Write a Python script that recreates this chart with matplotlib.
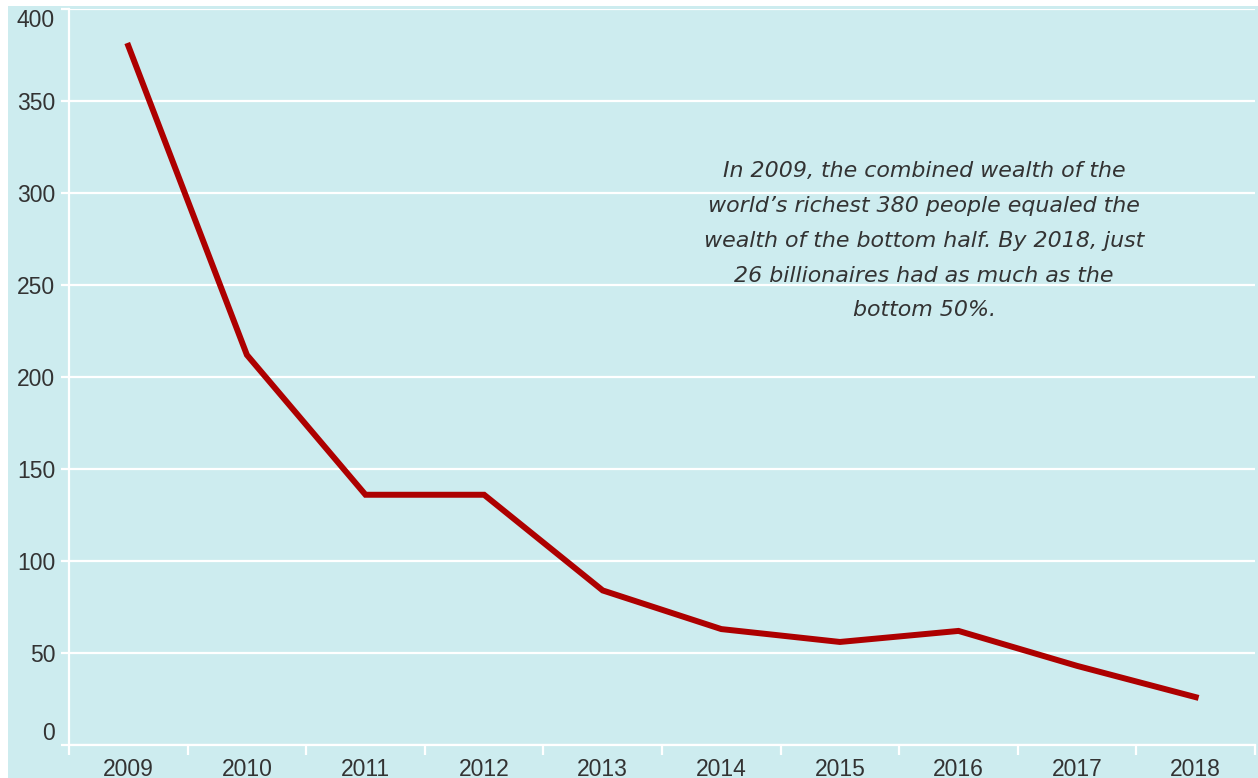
import numpy as np
import matplotlib.pyplot as plt
from matplotlib.patches import Rectangle

years = ["2009", "2010", "2011", "2012", "2013", "2014", "2015", "2016", "2017", "2018"]
billionaires = [380, 212, 136, 136, 84, 63, 56, 62, 43, 26]
note = ("In 2009, the combined wealth of the\n"
        "world\u2019s richest 380 people equaled the\n"
        "wealth of the bottom half. By 2018, just\n"
        "26 billionaires had as much as the\n"
        "bottom 50%.")

bg = "#cdecef"
line_col = "#ad0000"
txt_col = "#333333"

plt.rcParams['font.family'] = ['Liberation Sans', 'DejaVu Sans']

fig = plt.figure(figsize=(12.58, 7.78), dpi=100, facecolor="white")
# cyan panel behind everything (thin white strip top and left)
fig.patches.append(Rectangle((8 / 1258, 0), 1, (778 - 6) / 778, transform=fig.transFigure,
                             facecolor=bg, edgecolor="none", zorder=-10))

W, H = 1258, 778
ax = fig.add_axes([69 / W, (H - 745) / H, (1255 - 69) / W, (745 - 9) / H])
ax.set_facecolor(bg)
ax.patch.set_alpha(0)

x = np.arange(len(years))
ax.plot(x, billionaires, color=line_col, lw=4.3, solid_joinstyle="miter", zorder=3)

ax.set_xlim(-0.5, len(years) - 0.5)
ax.set_ylim(0, 400)
ax.set_yticks(np.arange(0, 401, 50))
ax.grid(axis="y", color="white", lw=1.6)
ax.set_axisbelow(True)

for s in ["top", "right"]:
    ax.spines[s].set_visible(False)
for s in ["left", "bottom"]:
    ax.spines[s].set_color("white")
    ax.spines[s].set_linewidth(1.6)

ax.set_xticks(x)
ax.set_xticklabels(years)
ax.set_xticks(np.arange(-0.5, len(years)), minor=True)
ax.tick_params(axis="x", which="major", length=0, pad=9, labelsize=16.5, labelcolor=txt_col)
ax.tick_params(axis="x", which="minor", length=7, width=1.6, color="white")
ax.tick_params(axis="y", length=6, width=1.6, color="white", pad=4, labelsize=16.5, labelcolor=txt_col)

ylabels = ax.get_yticklabels()
ylabels[0].set_va("bottom")
ylabels[-1].set_va("top")

ax.text(6.71, 274, note, ha="center", va="center", multialignment="center",
        fontsize=15.9, style="italic", color=txt_col, family=["DejaVu Sans"],
        linespacing=1.92)

fig.savefig("out.png", dpi=100, facecolor="white")
